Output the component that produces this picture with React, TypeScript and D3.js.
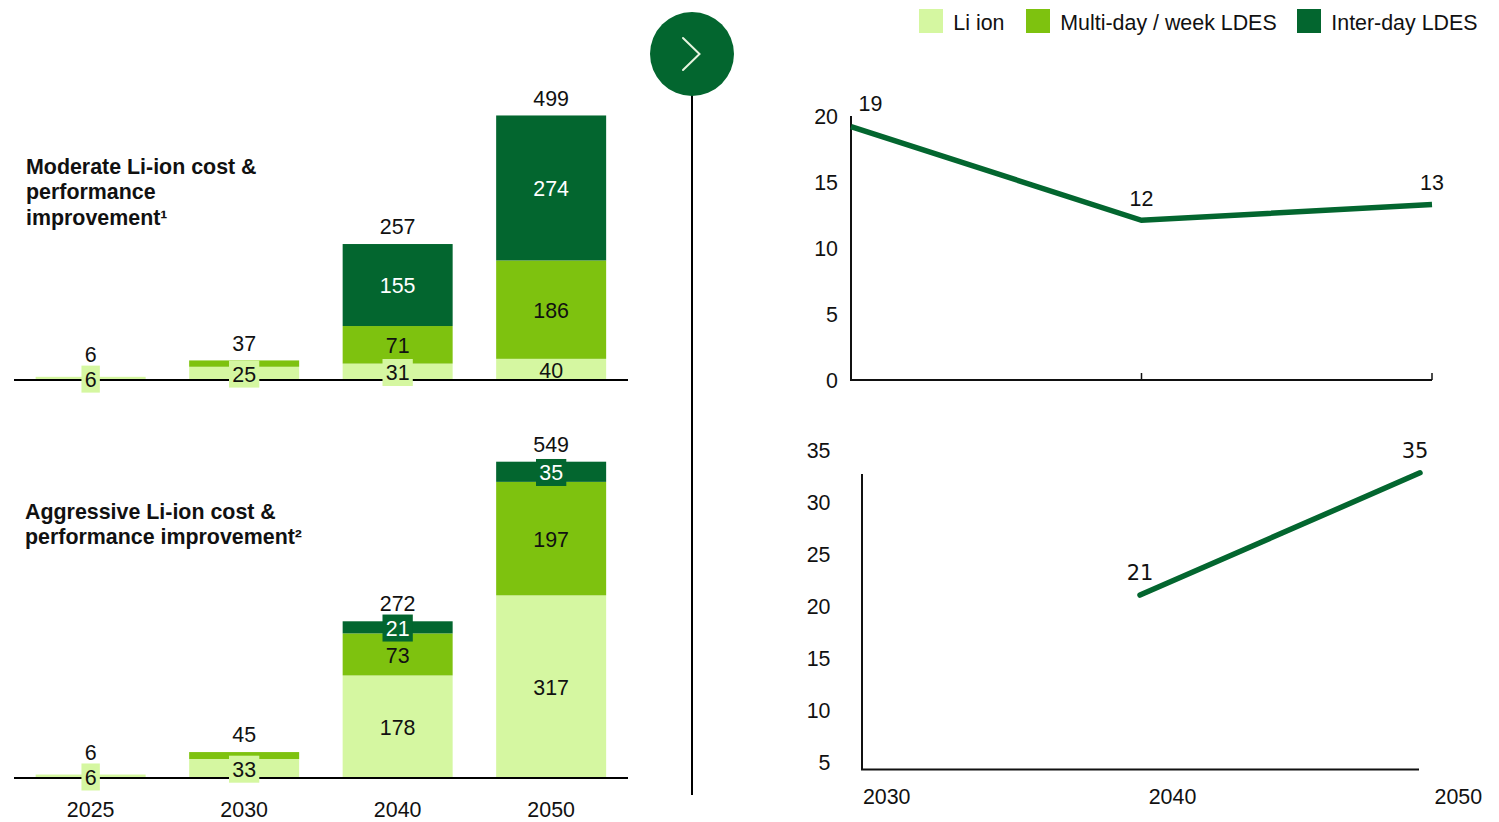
import React from "react";
import * as d3 from "d3";

const years = ["2025", "2030", "2040", "2050"];
const moderateLi = [6, 25, 31, 40];
const moderateMulti = [0, 12, 71, 186];
const moderateInter = [0, 0, 155, 274];
const moderateTotals = [6, 37, 257, 499];
const aggressiveLi = [6, 33, 178, 317];
const aggressiveMulti = [0, 12, 73, 197];
const aggressiveInter = [0, 0, 21, 35];
const aggressiveTotals = [6, 45, 272, 549];
const lineYears = [2030, 2040, 2050];
const moderateRatio = [19.2, 12.1, 13.3];
const moderateRatioLabels = ["19", "12", "13"];
const aggressiveYears = [2040, 2050];
const aggressiveRatio = [21.15, 32.9];
const aggressiveRatioLabels = ["21", "35"];
const topTicks = [0, 5, 10, 15, 20];
const bottomTicks = [5, 10, 15, 20, 25, 30, 35];
const legendItems = ["Li ion", "Multi-day / week LDES", "Inter-day LDES"];

const LIGHT = "#d5f7a1", MID = "#7ec20f", DARK = "#03662f";
const layerColors = [LIGHT, MID, DARK];
const layerText = ["#111", "#111", "#fff"];
const ARIAL = "'Liberation Sans', Arial, sans-serif";
const DEJAVU = "'DejaVu Sans', Verdana, sans-serif";
const FS = 21.4;

const xBand = d3.scaleBand<string>().domain(years).range([13.9, 627.9]).paddingInner(0.2834).paddingOuter(0.1417);

function Bars({ layers, totals, baseline, scale }: { layers: number[][]; totals: number[]; baseline: number; scale: number }) {
  const y = d3.scaleLinear().domain([0, 1]).range([baseline, baseline - scale]);
  const stack = d3.stack<number>().keys(["0", "1", "2"]).value((i, k) => layers[+k][i]);
  const series = stack(years.map((_, i) => i));
  const marks: any[] = [];
  const chips: any[] = [];
  const labels: any[] = [];
  const totalTexts: any[] = [];
  const bw = xBand.bandwidth();
  years.forEach((yr, i) => {
    const cx = xBand(yr)! + bw / 2;
    let chipTop = Infinity;
    series.forEach((s, k) => {
      const v = layers[k][i];
      if (!v) return;
      const y0 = y(s[i][0]), y1 = y(s[i][1]);
      marks.push(<rect key={`${yr}-${k}`} x={xBand(yr)} width={bw} y={y1} height={y0 - y1} fill={layerColors[k]} />);
      if (k === 1 && v < 20) return;
      const h = y0 - y1;
      const cy = (y0 + y1) / 2 + 0.8;
      const str = String(v);
      if (h < 21) {
        const w = str.length * FS * 0.556 + 6.5;
        chipTop = Math.min(chipTop, cy - 13.6);
        chips.push(<rect key={`c${yr}-${k}`} x={cx - w / 2} width={w} y={cy - 13.6} height={27} fill={layerColors[k]} />);
      }
      labels.push(<text key={`l${yr}-${k}`} x={cx} y={cy} dy="0.35em" textAnchor="middle" fill={layerText[k]}>{str}</text>);
    });
    const top = y(totals[i]);
    totalTexts.push(<text key={`t${yr}`} x={cx} y={Math.min(top - 17.4, chipTop - 11.4)} dy="0.35em" textAnchor="middle" fill="#111">{totals[i]}</text>);
  });
  return (
    <g fontFamily={ARIAL} fontSize={FS}>
      {marks}
      <line x1={14} x2={628} y1={baseline} y2={baseline} stroke="#000" strokeWidth={2} />
      {chips}
      {labels}
      {totalTexts}
    </g>
  );
}

export default function App() {
  const xTop = d3.scaleLinear().domain([2030, 2050]).range([851, 1432]);
  const yTop = d3.scaleLinear().domain([0, 20]).range([380, 116]);
  const xBot = d3.scaleLinear().domain([2030, 2050]).range([860, 1420]);
  const yBot = d3.scaleLinear().domain([5, 35]).range([763, 451]);
  const xBotLabel = d3.scaleLinear().domain([2030, 2050]).range([886.7, 1458.3]);
  const lineTop = d3.line<number>().x((_, i) => xTop(lineYears[i])).y((d) => yTop(d));
  const lineBot = d3.line<number>().x((_, i) => xBot(aggressiveYears[i])).y((d) => yBot(d));
  const legendX = [919, 1026, 1297];

  return (
    <svg width={1499} height={822} style={{ position: "absolute", left: 0, top: 0, background: "#fff" }}>
      <Bars layers={[moderateLi, moderateMulti, moderateInter]} totals={moderateTotals} baseline={380} scale={264 / 499} />
      <Bars layers={[aggressiveLi, aggressiveMulti, aggressiveInter]} totals={aggressiveTotals} baseline={778} scale={316.3 / 549} />

      <g fontFamily={ARIAL} fontSize={FS} fill="#111" textAnchor="middle">
        {years.map((yr) => (
          <text key={yr} x={xBand(yr)! + xBand.bandwidth() / 2} y={809.4} dy="0.35em">{yr}</text>
        ))}
      </g>

      <g fontFamily={ARIAL} fontSize={FS} fontWeight="bold" fill="#111">
        <text x={26} y={174}>Moderate Li-ion cost &amp;</text>
        <text x={26} y={199}>performance</text>
        <text x={26} y={225}>improvement¹</text>
        <text x={25} y={519}>Aggressive Li-ion cost &amp;</text>
        <text x={25} y={544}>performance improvement²</text>
      </g>

      <line x1={692} x2={692} y1={90} y2={795} stroke="#000" strokeWidth={2} />
      <circle cx={692} cy={54} r={42} fill={DARK} />
      <path d="M683,38 L699.5,54 L683,70" fill="none" stroke="#e8f5e0" strokeWidth={2} strokeLinecap="round" />

      <g fontFamily={ARIAL} fontSize={FS} fill="#111">
        {legendItems.map((t, i) => (
          <g key={t}>
            <rect x={legendX[i]} y={9} width={24} height={24} fill={layerColors[i]} />
            <text x={legendX[i] + 34.3} y={23} dy="0.35em">{t}</text>
          </g>
        ))}
      </g>

      <g fontFamily={ARIAL} fontSize={FS} fill="#111">
        {topTicks.map((t) => (
          <text key={t} x={838} y={yTop(t)} dy="0.37em" textAnchor="end">{t}</text>
        ))}
        {moderateRatioLabels.map((t, i) => (
          <text key={t} x={xTop(lineYears[i]) + (i === 0 ? 19.5 : 0)} y={yTop(moderateRatio[i]) - (i === 0 ? 23 : 22)} dy="0.35em" textAnchor="middle">{t}</text>
        ))}
        {bottomTicks.map((t) => (
          <text key={t} x={830.5} y={yBot(t)} dy="0.35em" textAnchor="end">{t}</text>
        ))}
        {lineYears.map((t) => (
          <text key={t} x={xBotLabel(t)} y={796.6} dy="0.35em" textAnchor="middle">{t}</text>
        ))}
      </g>
      <g stroke="#111" fill="none">
        <line x1={851} x2={851} y1={yTop(20)} y2={yTop(0)} strokeWidth={2} />
        <line x1={850} x2={1432} y1={yTop(0)} y2={yTop(0)} strokeWidth={2} />
        {[2040, 2050].map((t) => (
          <line key={t} x1={xTop(t)} x2={xTop(t)} y1={373} y2={380} strokeWidth={1.5} />
        ))}
        <line x1={862} x2={862} y1={474} y2={769} strokeWidth={2} />
        <line x1={861} x2={1419} y1={769.5} y2={769.5} strokeWidth={2} />
      </g>
      <path d={lineTop(moderateRatio)!} fill="none" stroke={DARK} strokeWidth={5.5} />
      <path d={lineBot(aggressiveRatio)!} fill="none" stroke={DARK} strokeWidth={5.5} strokeLinecap="round" />
      <g fontFamily={DEJAVU} fontSize={21} fill="#111" textAnchor="middle">
        {aggressiveRatioLabels.map((t, i) => (
          <text key={t} x={xBot(aggressiveYears[i]) + (i === 0 ? 0 : -5)} y={yBot(aggressiveRatio[i]) - 22} dy="0.35em">{t}</text>
        ))}
      </g>
    </svg>
  );
}
